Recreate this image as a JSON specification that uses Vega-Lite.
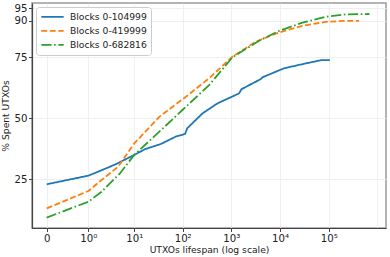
{
  "$schema": "https://vega.github.io/schema/vega-lite/v6.json",
  "width": 354,
  "height": 225,
  "autosize": {"type": "none"},
  "padding": {"left": 32, "top": 3, "right": 4, "bottom": 29},
  "background": "white",
  "config": {
    "font": "DejaVu Sans",
    "view": {"stroke": "#9a9a9a", "strokeWidth": 1.5},
    "axis": {
      "labelFont": "DejaVu Sans",
      "titleFont": "DejaVu Sans",
      "labelFontSize": 10.2,
      "titleFontSize": 9.2,
      "titleFontWeight": "normal",
      "labelColor": "#222",
      "titleColor": "#222",
      "domainColor": "#444",
      "domainWidth": 1.2,
      "tickColor": "#444",
      "tickSize": 3.5,
      "tickWidth": 1,
      "gridColor": "#ebebeb",
      "gridWidth": 0.8
    },
    "legend": {
      "labelFont": "DejaVu Sans",
      "labelFontSize": 9.2,
      "labelColor": "#222"
    }
  },
  "data": {
    "values": [
      {"series": "Blocks 0-104999", "lifespan": 0, "pct": 22.95},
      {"series": "Blocks 0-104999", "lifespan": 1, "pct": 26.5},
      {"series": "Blocks 0-104999", "lifespan": 2, "pct": 28.7},
      {"series": "Blocks 0-104999", "lifespan": 4, "pct": 31.1},
      {"series": "Blocks 0-104999", "lifespan": 10, "pct": 35.0},
      {"series": "Blocks 0-104999", "lifespan": 17, "pct": 37.4},
      {"series": "Blocks 0-104999", "lifespan": 36, "pct": 39.5},
      {"series": "Blocks 0-104999", "lifespan": 72, "pct": 42.5},
      {"series": "Blocks 0-104999", "lifespan": 112, "pct": 43.6},
      {"series": "Blocks 0-104999", "lifespan": 124, "pct": 45.9},
      {"series": "Blocks 0-104999", "lifespan": 255, "pct": 52.0},
      {"series": "Blocks 0-104999", "lifespan": 518, "pct": 56.1},
      {"series": "Blocks 0-104999", "lifespan": 1440, "pct": 60.2},
      {"series": "Blocks 0-104999", "lifespan": 1610, "pct": 61.9},
      {"series": "Blocks 0-104999", "lifespan": 4030, "pct": 66.1},
      {"series": "Blocks 0-104999", "lifespan": 4350, "pct": 66.8},
      {"series": "Blocks 0-104999", "lifespan": 12100, "pct": 70.5},
      {"series": "Blocks 0-104999", "lifespan": 33800, "pct": 72.5},
      {"series": "Blocks 0-104999", "lifespan": 68700, "pct": 73.8},
      {"series": "Blocks 0-104999", "lifespan": 104999, "pct": 73.8},
      {"series": "Blocks 0-419999", "lifespan": 0, "pct": 13.1},
      {"series": "Blocks 0-419999", "lifespan": 1, "pct": 20.2},
      {"series": "Blocks 0-419999", "lifespan": 2, "pct": 24.7},
      {"series": "Blocks 0-419999", "lifespan": 4.6, "pct": 30.2},
      {"series": "Blocks 0-419999", "lifespan": 10, "pct": 39.7},
      {"series": "Blocks 0-419999", "lifespan": 33, "pct": 50.6},
      {"series": "Blocks 0-419999", "lifespan": 116, "pct": 58.8},
      {"series": "Blocks 0-419999", "lifespan": 349, "pct": 66.4},
      {"series": "Blocks 0-419999", "lifespan": 1050, "pct": 75.2},
      {"series": "Blocks 0-419999", "lifespan": 3180, "pct": 81.4},
      {"series": "Blocks 0-419999", "lifespan": 9570, "pct": 85.2},
      {"series": "Blocks 0-419999", "lifespan": 28800, "pct": 87.9},
      {"series": "Blocks 0-419999", "lifespan": 86900, "pct": 89.5},
      {"series": "Blocks 0-419999", "lifespan": 190000, "pct": 89.9},
      {"series": "Blocks 0-419999", "lifespan": 419999, "pct": 89.9},
      {"series": "Blocks 0-682816", "lifespan": 0, "pct": 9.3},
      {"series": "Blocks 0-682816", "lifespan": 1, "pct": 15.8},
      {"series": "Blocks 0-682816", "lifespan": 2, "pct": 19.9},
      {"series": "Blocks 0-682816", "lifespan": 5, "pct": 27.4},
      {"series": "Blocks 0-682816", "lifespan": 10, "pct": 35.0},
      {"series": "Blocks 0-682816", "lifespan": 33, "pct": 44.5},
      {"series": "Blocks 0-682816", "lifespan": 99, "pct": 53.4},
      {"series": "Blocks 0-682816", "lifespan": 349, "pct": 63.6},
      {"series": "Blocks 0-682816", "lifespan": 1050, "pct": 75.0},
      {"series": "Blocks 0-682816", "lifespan": 3720, "pct": 81.8},
      {"series": "Blocks 0-682816", "lifespan": 9570, "pct": 85.8},
      {"series": "Blocks 0-682816", "lifespan": 28800, "pct": 89.2},
      {"series": "Blocks 0-682816", "lifespan": 86900, "pct": 91.6},
      {"series": "Blocks 0-682816", "lifespan": 224000, "pct": 92.6},
      {"series": "Blocks 0-682816", "lifespan": 682816, "pct": 92.75}
    ]
  },
  "mark": {"type": "line", "strokeWidth": 1.8, "clip": true},
  "encoding": {
    "x": {
      "field": "lifespan",
      "type": "quantitative",
      "title": "UTXOs lifespan (log scale)",
      "scale": {"type": "symlog", "constant": 0.1616, "domain": [-0.1616, 1495000], "nice": false, "zero": false},
      "axis": {
        "values": [0, 1, 10, 100, 1000, 10000, 100000, 1000000],
        "labelExpr": "datum.value == 0 ? '0' : datum.value == 1 ? '10⁰' : datum.value == 10 ? '10¹' : datum.value == 100 ? '10²' : datum.value == 1000 ? '10³' : datum.value == 10000 ? '10⁴' : datum.value == 100000 ? '10⁵' : ''",
        "labelPadding": 1.5,
        "titlePadding": 2,
        "labelFlush": false,
        "labelOverlap": false,
        "tickColor": {"condition": {"test": "datum.value >= 1000000", "value": "transparent"}, "value": "#444"},
        "grid": true
      }
    },
    "y": {
      "field": "pct",
      "type": "quantitative",
      "title": "% Spent UTXOs",
      "scale": {"domain": [5.04, 97.25], "nice": false, "zero": false},
      "axis": {
        "values": [25, 50, 75, 90, 95],
        "labelPadding": 1.5,
        "titlePadding": 4,
        "grid": true
      }
    },
    "color": {
      "field": "series",
      "type": "nominal",
      "scale": {"range": ["#1f77b4", "#ff7f0e", "#2ca02c"]},
      "legend": {
        "title": null,
        "orient": "top-left",
        "offset": 4,
        "padding": 4,
        "fillColor": "white",
        "strokeColor": "#cccccc",
        "cornerRadius": 3,
        "symbolType": "stroke",
        "symbolSize": 500,
        "symbolStrokeWidth": 1.8,
        "clipHeight": 11.7,
        "rowPadding": 2,
        "labelOffset": 5
      }
    },
    "strokeDash": {
      "field": "series",
      "type": "nominal",
      "scale": {"range": [[1, 0], [5.9, 2.6], [10.2, 2.6, 1.6, 2.6]]},
      "legend": null
    }
  }
}
